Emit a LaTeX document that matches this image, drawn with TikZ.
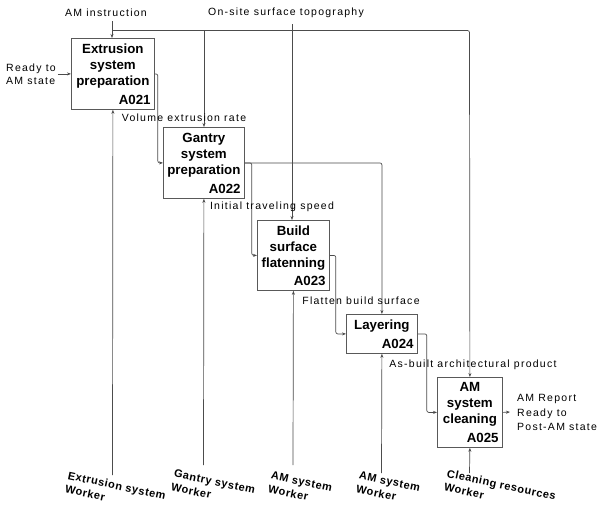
\documentclass[tikz,border=0pt]{standalone}
\usepackage{fontspec}
\setmainfont{Liberation Sans}
\newfontfamily\lblfont[LetterSpace=12]{Liberation Sans}
\newfontfamily\mechfont[LetterSpace=5]{Liberation Sans}
\usetikzlibrary{arrows.meta,calc}
\begin{document}
\begin{tikzpicture}[x=1pt,y=-1pt,
  box/.style={draw=black!65,line width=0.8pt,inner sep=0pt,anchor=north west},
  ttl/.style={font=\bfseries\fontsize{13.3}{16}\selectfont,align=center,inner sep=0pt,anchor=north},
  aid/.style={font=\bfseries\fontsize{13.3}{16}\selectfont,inner sep=0pt,anchor=south east},
  lbl/.style={font=\lblfont\fontsize{10.5}{13}\selectfont,inner sep=0pt},
  mech/.style={font=\mechfont\bfseries\fontsize{11}{14}\selectfont,align=left,inner sep=0pt,anchor=north west,rotate=-12},
  conn/.style={draw=black!70,line width=0.7pt,rounded corners=2pt},
  arr/.style={conn,-{Stealth[length=4pt,width=3pt]}}
]
\useasboundingbox[fill=white] (0,0) rectangle (598,509);

% boxes
\node[box,minimum width=83pt,minimum height=71pt] (b1) at (71,38) {};
\node[box,minimum width=81pt,minimum height=71pt] (b2) at (163,127) {};
\node[box,minimum width=72pt,minimum height=70pt] (b3) at (257,220) {};
\node[box,minimum width=71pt,minimum height=39pt] (b4) at (346,314) {};
\node[box,minimum width=65pt,minimum height=70pt] (b5) at (437,377) {};

\node[ttl] (t1) at ($(b1.north)+(0,6)$) {Extrusion\\system\\preparation};
\node[aid] (i1) at ($(b1.south east)+(-4,-5)$) {A021};
\node[ttl] (t2) at ($(b2.north)+(0,6)$) {Gantry\\system\\preparation};
\node[aid] (i2) at ($(b2.south east)+(-4,-5)$) {A022};
\node[ttl] (t3) at ($(b3.north)+(0,6)$) {Build\\surface\\flatenning};
\node[aid] (i3) at ($(b3.south east)+(-4,-5)$) {A023};
\node[ttl] (t4) at ($(b4.north)+(0,6)$) {Layering};
\node[aid] (i4) at ($(b4.south east)+(-4,-5)$) {A024};
\node[ttl] (t5) at ($(b5.north)+(0,5)$) {AM\\system\\cleaning};
\node[aid] (i5) at ($(b5.south east)+(-4,-5)$) {A025};

% controls
\node[lbl] (amin) at (106,13) {AM instruction};
\node[lbl] (onsite) at (286,13) {On-site surface topography};
\coordinate (a0) at (112,21);
\coordinate (j1) at (112,30.5);
\coordinate (j2) at (204,30.5);
\coordinate (j5) at (469.5,30.5);
\coordinate (o1) at (292,24);
\draw[arr] (a0) -- (a0 |- b1.north);
\draw[arr] (j1) -- (j5) -- (b5.north);
\draw[arr] (j2) -- (j2 |- b2.north);
\draw[arr] (o1) -- (o1 |- b3.north);

% input
\node[lbl,align=left,anchor=west] (ready) at (6,74.5) {Ready to\\AM state};
\draw[arr] ([xshift=2pt]ready.east |- b1.west) -- (b1.west);

% internal flows
\draw[arr] (b1.east) -- ++(3,0) |- (b2.west);
\draw[arr] (b2.east) -- ++(7,0) |- (b3.west);
\draw[arr] (b2.east) -| (b4.north);
\draw[arr] (b3.east) -- ++(6,0) |- (b4.west);
\draw[arr] (b4.east) -- ++(9,0) |- (b5.west);
\node[lbl] (l1) at (184,118) {Volume extrusion rate};
\node[lbl] (l2) at (272,207) {Initial traveling speed};
\node[lbl] (l3) at (361,301) {Flatten build surface};
\node[lbl] (l4) at (473,365) {As-built architectural product};

% output
\coordinate (oe) at (510,412);
\draw[arr] (b5.east) -- (oe);
\node[lbl,align=left,anchor=west,font=\lblfont\fontsize{10.5}{14.5}\selectfont] (out) at (517,412.5) {AM Report\\Ready to\\Post-AM state};

% mechanisms
\node[mech] (m1) at (69,471) {Extrusion system\\Worker};
\node[mech] (m2) at (175,469) {Gantry system\\Worker};
\node[mech] (m3) at (272,471) {AM system\\Worker};
\node[mech] (m4) at (360,471) {AM system\\Worker};
\node[mech] (m5) at (448,469) {Cleaning resources\\Worker};
\coordinate (mc1) at (112.5,475);
\coordinate (mc2) at (203.5,465);
\coordinate (mc3) at (293,465);
\coordinate (mc4) at (381.5,473);
\coordinate (mc5) at (469.5,473);
\draw[arr] (mc1) -- (b1.south);
\draw[arr] (mc2) -- (b2.south);
\draw[arr] (mc3) -- (b3.south);
\draw[arr] (mc4) -- (b4.south);
\draw[arr] (mc5) -- (b5.south);
\end{tikzpicture}
\end{document}
